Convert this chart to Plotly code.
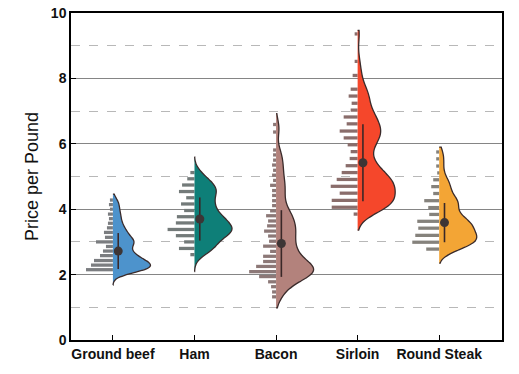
import plotly.graph_objects as go

categories = ["Ground beef", "Ham", "Bacon", "Sirloin", "Round Steak"]
positions = [0, 1, 2, 3, 4]

# histogram bins (price) and counts
gb_bins = [2.15, 2.29, 2.43, 2.58, 2.72, 2.86, 3.00, 3.14, 3.29, 3.43, 3.57, 3.71, 3.85, 4.00, 4.14, 4.28]
gb_counts = [27, 22, 19, 13, 10, 7, 17, 8, 9, 6, 5, 4, 5, 3, 4, 3]

ham_bins = [2.61, 2.80, 3.00, 3.19, 3.38, 3.58, 3.77, 3.96, 4.16, 4.35, 4.54, 4.74, 4.93, 5.12]
ham_counts = [4, 15, 10, 18, 26, 18, 17, 10, 13, 8, 15, 12, 7, 4]

bacon_bins = [1.32, 1.47, 1.63, 1.78, 1.94, 2.09, 2.25, 2.40, 2.56, 2.71, 2.87, 3.02, 3.18, 3.33,
              3.49, 3.64, 3.80, 3.95, 4.11, 4.26, 4.42, 4.57, 4.73, 4.88, 5.04, 5.19, 5.35, 5.50,
              5.66, 5.81, 6.36, 6.59]
bacon_counts = [4, 4, 5, 8, 17, 27, 20, 13, 13, 6, 13, 7, 8, 12,
                9, 8, 10, 6, 4, 4, 4, 4, 6, 3, 4, 3, 4, 3,
                3, 3, 3, 3]

sirloin_bins = [3.85, 4.06, 4.27, 4.49, 4.70, 4.91, 5.12, 5.33, 5.55, 5.76, 5.97, 6.18, 6.39, 6.61,
                6.82, 7.03, 7.24, 7.46, 7.67, 8.09, 8.52, 9.36]
sirloin_counts = [4, 26, 26, 18, 27, 21, 16, 12, 8, 7, 10, 14, 18, 11,
                  14, 7, 6, 9, 7, 5, 3, 3]

round_bins = [2.78, 2.99, 3.20, 3.42, 3.63, 3.84, 4.05, 4.26, 4.48, 4.69, 4.90, 5.11, 5.32, 5.54, 5.75]
round_counts = [13, 27, 24, 21, 22, 10, 11, 15, 6, 8, 6, 2, 3, 3, 3]

means = [2.72, 3.70, 2.95, 5.42, 3.59]
sds = [0.55, 0.66, 1.02, 1.18, 0.60]
span_lo = [1.68, 2.09, 0.98, 3.36, 2.35]
span_hi = [4.46, 5.60, 6.92, 9.47, 5.90]
bandwidths = [0.15, 0.20, 0.25, 0.28, 0.20]

violin_colors = ["#4d93cc", "#0e7f78", "#b3827c", "#f5472b", "#f3a535"]
bar_colors = ["#7b7d80", "#737a79", "#8c7877", "#8a6d6b", "#85827c"]

hists = [(gb_bins, gb_counts), (ham_bins, ham_counts), (bacon_bins, bacon_counts),
         (sirloin_bins, sirloin_counts), (round_bins, round_counts)]

HIST_MAX = 0.33
fig = go.Figure()
for i, pos in enumerate(positions):
    bins, counts = hists[i]
    mx = max(counts)
    fig.add_trace(go.Bar(
        y=bins, x=[-c / mx * HIST_MAX for c in counts], base=[pos] * len(bins),
        orientation="h", width=0.1, marker=dict(color=bar_colors[i], line=dict(width=0)),
        showlegend=False, hoverinfo="skip"))
    samples = [b for b, c in zip(bins, counts) for _ in range(c)]
    fig.add_trace(go.Violin(
        y=samples, x0=pos, side="positive", width=0.92, scalemode="width",
        fillcolor=violin_colors[i], line=dict(color="#3a2b2b", width=1.3),
        points=False, box_visible=False, meanline_visible=False,
        bandwidth=bandwidths[i], spanmode="manual", span=[span_lo[i], span_hi[i]],
        opacity=1, showlegend=False, hoverinfo="skip"))
    fig.add_trace(go.Scatter(
        x=[pos + 0.065, pos + 0.065], y=[means[i] - sds[i], means[i] + sds[i]],
        mode="lines", line=dict(color="#3a2828", width=1.6), showlegend=False, hoverinfo="skip"))
    fig.add_trace(go.Scatter(
        x=[pos + 0.065], y=[means[i]], mode="markers",
        marker=dict(size=9, color="#3d3535"), showlegend=False, hoverinfo="skip"))

font_family = "Liberation Sans, Arial, sans-serif"
fig.update_layout(
    width=519, height=374,
    margin=dict(l=71, r=17, t=13, b=34),
    paper_bgcolor="white", plot_bgcolor="white",
    barmode="overlay", violinmode="overlay",
    font=dict(family=font_family, color="#111111"),
    xaxis=dict(range=[-0.514, 4.77], tickvals=positions, ticktext=categories,
               ticks="inside", ticklen=5, tickwidth=1.2, tickcolor="black",
               showline=True, linecolor="black", linewidth=1.5, mirror=True,
               showgrid=False, zeroline=False, automargin=False,
               tickfont=dict(size=14, weight="bold", family=font_family, color="#111111")),
    yaxis=dict(range=[0, 10], dtick=2, tick0=0,
               ticks="inside", ticklen=5, tickwidth=1.2, tickcolor="black",
               showline=True, linecolor="black", linewidth=1.5, mirror=True,
               showgrid=True, gridcolor="#858585", gridwidth=1, zeroline=False,
               automargin=False,
               minor=dict(dtick=1, tick0=0, showgrid=True, gridcolor="#b8b8b8",
                          griddash="dash", gridwidth=1, ticks=""),
               tickfont=dict(size=14, weight="bold", family=font_family, color="#111111"),
               title=dict(text="Price per Pound", font=dict(size=18, family=font_family, color="#111111"),
                          standoff=8)),
)

fig.write_html("out.html",
               config={"displayModeBar": False},
               post_script="document.body.style.margin='0';document.body.style.overflow='hidden';")
